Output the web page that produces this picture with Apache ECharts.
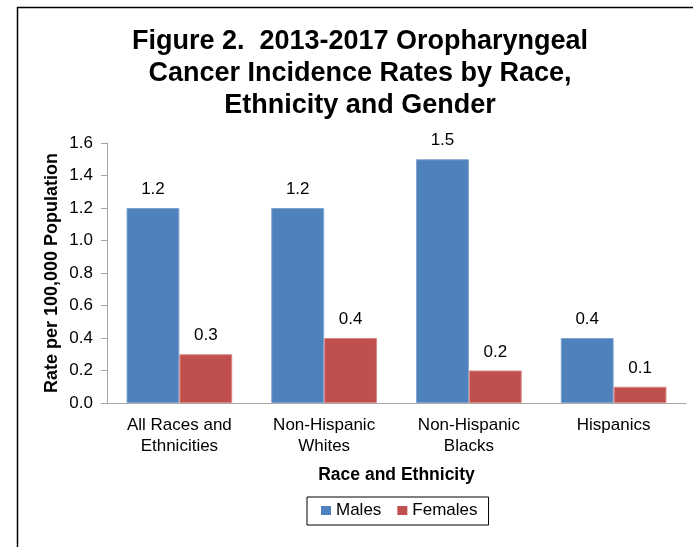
<!DOCTYPE html>
<html>
<head>
<meta charset="utf-8">
<script src="https://cdn.jsdelivr.net/npm/echarts@6/dist/echarts.min.js"></script>
<style>
  html, body { margin: 0; padding: 0; background: #fff; }
  #chart { width: 693px; height: 547px; }
</style>
</head>
<body>
<div id="chart"></div>
<script>
// Oropharyngeal cancer incidence, 2013-2017, per 100,000 population
const categories = ['All Races and\nEthnicities', 'Non-Hispanic\nWhites', 'Non-Hispanic\nBlacks', 'Hispanics'];
const males = [1.2, 1.2, 1.5, 0.4];
const females = [0.3, 0.4, 0.2, 0.1];
const yTicks = { min: 0, max: 1.6, interval: 0.2 };

const FONT = '"Liberation Sans", Arial, sans-serif';

const chart = echarts.init(document.getElementById('chart'), null, { renderer: 'canvas' });

const labelStyle = {
  show: true,
  position: 'top',
  distance: 10,
  fontFamily: FONT,
  fontSize: 17,
  color: '#000',
  formatter: p => p.value.toFixed(1)
};

chart.setOption({
  backgroundColor: '#fff',
  animation: false,
  title: {
    text: 'Figure 2.  2013-2017 Oropharyngeal\nCancer Incidence Rates by Race,\nEthnicity and Gender',
    left: 355,
    top: 21,
    textAlign: 'center',
    textStyle: {
      fontFamily: FONT,
      fontSize: 27,
      fontWeight: 'bold',
      color: '#000',
      lineHeight: 32
    }
  },
  graphic: [
    {
      type: 'polyline',
      shape: { points: [[17.5, 547], [17.5, 7.5], [693, 7.5]] },
      style: { stroke: '#000', lineWidth: 1.5, fill: null },
      silent: true
    }
  ],
  legend: {
    data: ['Males', 'Females'],
    left: 307,
    top: 497,
    orient: 'horizontal',
    itemWidth: 10,
    itemHeight: 9,
    itemGap: 16,
    icon: 'rect',
    itemStyle: { borderWidth: 0 },
    borderColor: '#000',
    borderWidth: 1,
    padding: [5, 11, 6, 14],
    textStyle: { fontFamily: FONT, fontSize: 17, color: '#000' }
  },
  grid: { left: 107, right: 7, top: 143, bottom: 144, containLabel: false },
  xAxis: {
    type: 'category',
    data: categories,
    name: 'Race and Ethnicity',
    nameLocation: 'middle',
    nameGap: 63,
    nameTextStyle: { fontFamily: FONT, fontSize: 17.5, fontWeight: 'bold', color: '#000' },
    axisLine: { lineStyle: { color: '#a6a6a6', width: 1 } },
    axisTick: { show: false },
    axisLabel: {
      fontFamily: FONT,
      fontSize: 17,
      color: '#000',
      lineHeight: 21,
      margin: 12,
      interval: 0
    }
  },
  yAxis: {
    type: 'value',
    min: yTicks.min,
    max: yTicks.max,
    interval: yTicks.interval,
    name: 'Rate per 100,000 Population',
    nameLocation: 'middle',
    nameRotate: 90,
    nameGap: 46,
    nameMoveOverlap: false,
    nameTextStyle: { fontFamily: FONT, fontSize: 18, fontWeight: 'bold', color: '#000' },
    axisLine: { show: true, lineStyle: { color: '#a6a6a6', width: 1 } },
    axisTick: { show: true, length: 6, lineStyle: { color: '#a6a6a6' } },
    splitLine: { show: false },
    axisLabel: {
      fontFamily: FONT,
      fontSize: 17,
      color: '#000',
      margin: 14,
      formatter: v => v.toFixed(1)
    }
  },
  series: [
    {
      name: 'Males',
      type: 'bar',
      data: males,
      barGap: '0%',
      barCategoryGap: '27%',
      itemStyle: { color: '#4F81BD', borderColor: '#7fa3d1', borderWidth: 1 },
      label: labelStyle
    },
    {
      name: 'Females',
      type: 'bar',
      data: females,
      itemStyle: { color: '#C0504D', borderColor: '#d98583', borderWidth: 1 },
      label: labelStyle
    }
  ]
});
</script>
</body>
</html>
